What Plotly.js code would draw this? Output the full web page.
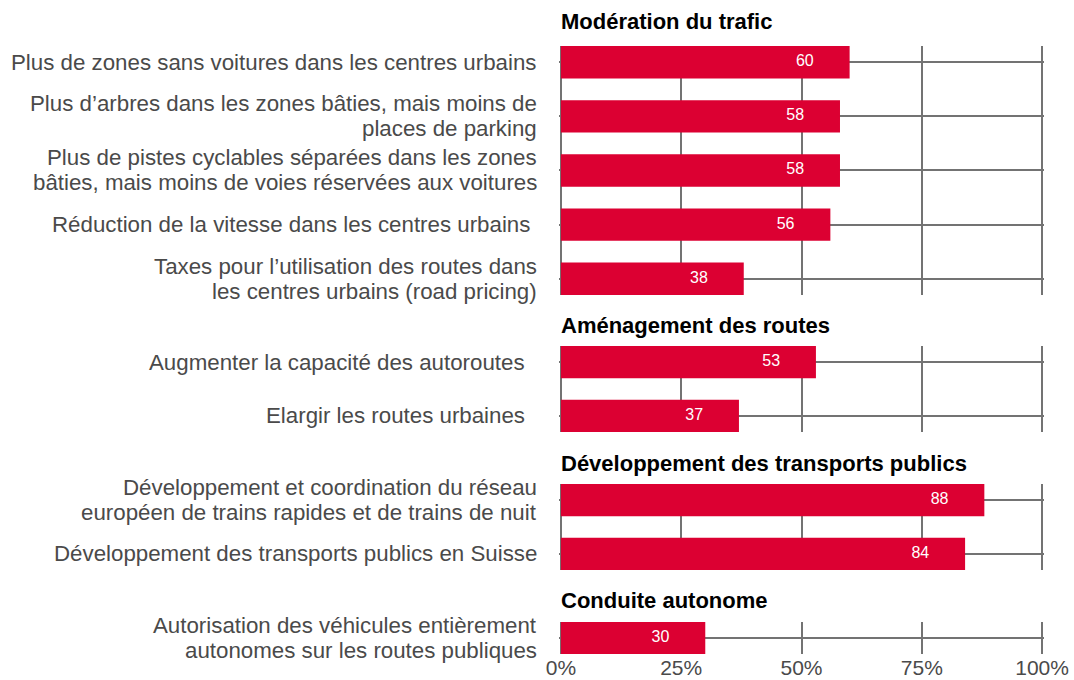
<!DOCTYPE html>
<html>
<head>
<meta charset="utf-8">
<script src="https://cdn.plot.ly/plotly-3.0.1.min.js"></script>
<style>html,body{margin:0;padding:0;background:#fff;}#chart{width:1074px;height:680px;}</style>
</head>
<body>
<div id="chart"></div>
<script>
// ---- data ----
const groupTitles = ["Modération du trafic", "Aménagement des routes", "Développement des transports publics", "Conduite autonome"];

const cats1 = ["Plus de zones sans voitures dans les centres urbains",
  "Plus d’arbres dans les zones bâties, mais moins de<br>places de parking",
  "Plus de pistes cyclables séparées dans les zones<br>bâties, mais moins de voies réservées aux voitures",
  "Réduction de la vitesse dans les centres urbains\u00A0",
  "Taxes pour l’utilisation des routes dans<br>les centres urbains (road pricing)"];
const vals1 = [60, 58, 58, 56, 38];

const cats2 = ["Augmenter la capacité des autoroutes\u00A0\u00A0", "Elargir les routes urbaines\u00A0\u00A0"];
const vals2 = [53, 37];

const cats3 = ["Développement et coordination du réseau<br>européen de trains rapides et de trains de nuit",
  "Développement des transports publics en Suisse"];
const vals3 = [88, 84];

const cats4 = ["Autorisation des véhicules entièrement<br>autonomes sur les routes publiques"];
const vals4 = [30];

const xTickVals = [0, 25, 50, 75, 100];
const xTickText = ["0%", "25%", "50%", "75%", "100%"];

// ---- styling ----
const RED = "#DC0032";
const GRID = "#737373";
const TXT = "#4a4a4a";
const FONT = "Arial, 'Liberation Sans', sans-serif";
const groups = [[cats1, vals1], [cats2, vals2], [cats3, vals3], [cats4, vals4]];
const domains = [[0.5905, 1.0], [0.3651, 0.5066], [0.1382, 0.2796], [0, 0.0526]];
const titleY = [1.0395, 0.541, 0.314, 0.0872];
const LINE_H = 25;

const traces = [];
const layout = {
  width: 1074, height: 680,
  margin: {l: 559, r: 30, t: 46, b: 26},
  paper_bgcolor: "#fff", plot_bgcolor: "#fff",
  showlegend: false,
  font: {family: FONT, color: TXT, size: 22},
  xaxis: {range: [-0.4, 100.4], anchor: "y4", tickvals: xTickVals, ticktext: xTickText, showgrid: true,
    gridcolor: GRID, gridwidth: 2, zeroline: false, showline: false, ticks: "",
    ticklabelstandoff: -1, tickfont: {size: 21, color: TXT}, fixedrange: true},
  annotations: [],
  hovermode: false
};

groups.forEach(([cats, vals], i) => {
  const ya = i === 0 ? "y" : "y" + (i + 1);
  const yk = i === 0 ? "yaxis" : "yaxis" + (i + 1);
  traces.push({type: "bar", orientation: "h", x: vals, y: cats, xaxis: "x", yaxis: ya,
    marker: {color: RED, line: {width: 0}}, width: 0.6, hoverinfo: "skip"});
  traces.push({type: "scatter", mode: "text", x: vals.map(v => v - 9.3), y: cats, xaxis: "x", yaxis: ya,
    text: vals.map(String), textposition: "middle center",
    textfont: {color: "#ffffff", size: 16, family: FONT}, hoverinfo: "skip", cliponaxis: false});
  layout[yk] = {domain: domains[i], anchor: "x", type: "category", categoryorder: "array",
    categoryarray: cats, range: [cats.length - 0.7, -0.3], showgrid: true, gridcolor: GRID,
    gridwidth: 2, zeroline: false, showline: false, ticks: "", showticklabels: false, fixedrange: true};
  // category labels, each line placed with tight line spacing
  cats.forEach(c => {
    const lines = c.split("<br>");
    lines.forEach((ln, k) => {
      layout.annotations.push({text: ln, xref: "paper", yref: ya, x: 0, y: c,
        xanchor: "right", yanchor: "middle", xshift: -20,
        yshift: ((lines.length - 1) / 2 - k) * LINE_H,
        showarrow: false, font: {size: 22.3, color: TXT, family: FONT}});
    });
  });
  layout.annotations.push({text: "<b>" + groupTitles[i] + "</b>", xref: "paper", yref: "paper",
    x: 0, y: titleY[i], xanchor: "left", yanchor: "middle", xshift: 0, showarrow: false,
    font: {size: 22, color: "#000", family: FONT}});
});

Plotly.newPlot("chart", traces, layout, {displayModeBar: false, staticPlot: true});
</script>
</body>
</html>
